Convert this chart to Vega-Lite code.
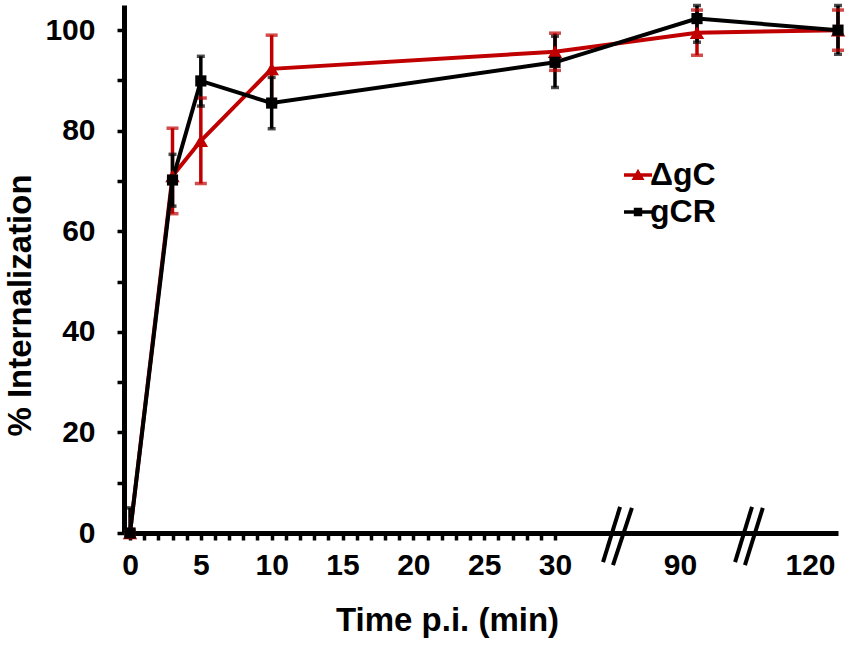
{
  "$schema": "https://vega.github.io/schema/vega-lite/v6.json",
  "autosize": "none",
  "width": 720,
  "height": 528,
  "padding": {"left": 124, "top": 5, "right": 7, "bottom": 113},
  "background": "white",
  "config": {
    "view": {"stroke": null},
    "font": "Liberation Sans",
    "axis": {
      "grid": false,
      "domainColor": "black",
      "domainWidth": 5,
      "tickColor": "black",
      "tickWidth": 3.5,
      "tickSize": 7,
      "labelColor": "black",
      "labelFont": "Liberation Sans",
      "labelFontSize": 30,
      "labelFontWeight": "bold",
      "titleColor": "black",
      "titleFont": "Liberation Sans",
      "titleFontSize": 33,
      "titleFontWeight": "bold"
    },
    "legend": {
      "labelFont": "Liberation Sans",
      "labelFontSize": 32,
      "labelFontWeight": "bold",
      "labelColor": "black"
    }
  },
  "datasets": {
    "uptake": [
      {"series": "ΔgC", "t": 0, "v": 0, "lo": -0.5, "hi": 0.5},
      {"series": "ΔgC", "t": 3, "v": 71, "lo": 63.5, "hi": 80.5},
      {"series": "ΔgC", "t": 5, "v": 78, "lo": 69.5, "hi": 86.5},
      {"series": "ΔgC", "t": 10, "v": 92.3, "lo": 85.5, "hi": 99},
      {"series": "ΔgC", "t": 30, "v": 95.7, "lo": 92, "hi": 99.4},
      {"series": "ΔgC", "t": 90, "v": 99.5, "lo": 95, "hi": 104},
      {"series": "ΔgC", "t": 120, "v": 100, "lo": 96, "hi": 104},
      {"series": "gCR", "t": 0, "v": 0, "lo": 0, "hi": 5},
      {"series": "gCR", "t": 3, "v": 70.2, "lo": 65, "hi": 75.3},
      {"series": "gCR", "t": 5, "v": 89.9, "lo": 84.9, "hi": 94.8},
      {"series": "gCR", "t": 10, "v": 85.5, "lo": 80.4, "hi": 90.6},
      {"series": "gCR", "t": 30, "v": 93.6, "lo": 88.6, "hi": 98.8},
      {"series": "gCR", "t": 90, "v": 102.3, "lo": 97.6, "hi": 104.9},
      {"series": "gCR", "t": 120, "v": 100, "lo": 95.2, "hi": 104.9}
    ],
    "breaks": [
      {"x": 50.3, "x2": 57.5, "y": -5.8, "y2": 5.2},
      {"x": 54.5, "x2": 62.5, "y": -6.4, "y2": 5.0},
      {"x": 98.1, "x2": 101.7, "y": -5.8, "y2": 5.2},
      {"x": 100.2, "x2": 104.0, "y": -6.4, "y2": 5.0}
    ]
  },
  "encoding": {
    "x": {
      "field": "t",
      "type": "quantitative",
      "scale": {"domain": [0, 30, 90, 120], "range": [6, 431, 573, 714], "nice": false, "zero": false},
      "axis": {
        "title": "Time p.i. (min)",
        "values": [0, 1, 2, 3, 4, 5, 6, 7, 8, 9, 10, 11, 12, 13, 14, 15, 16, 17, 18, 19, 20, 21, 22, 23, 24, 25, 26, 27, 28, 29, 30, 90, 120],
        "labelExpr": "datum.value <= 30 && datum.value % 5 != 0 ? '' : datum.label",
        "labelOverlap": false,
        "labelFlush": false,
        "labelPadding": 10,
        "titlePadding": 24,
        "titleX": 323,
        "tickOpacity": {"condition": {"test": "datum.value > 30", "value": 0}, "value": 1},
        "labelOffset": {"condition": [{"test": "datum.value == 90", "value": -17}, {"test": "datum.value == 120", "value": -28}], "value": 0}
      }
    },
    "y": {
      "type": "quantitative",
      "scale": {"domain": [0, 105], "nice": false},
      "axis": {
        "title": "% Internalization",
        "values": [0, 10, 20, 30, 40, 50, 60, 70, 80, 90, 100],
        "labelExpr": "datum.value % 20 == 0 ? datum.label : ''",
        "labelPadding": 22,
        "titlePadding": 7,
        "titleY": 300
      }
    },
    "color": {
      "field": "series",
      "type": "nominal",
      "scale": {"domain": ["ΔgC", "gCR"], "range": ["#c00000", "#000000"]},
      "legend": null
    }
  },
  "layer": [
    {
      "data": {"name": "uptake"},
      "mark": {"type": "rule", "strokeWidth": 3.5},
      "encoding": {"y": {"field": "lo"}, "y2": {"field": "hi"}}
    },
    {
      "data": {"name": "uptake"},
      "mark": {"type": "tick", "orient": "horizontal", "thickness": 3.5},
      "encoding": {
        "y": {"field": "lo"},
        "size": {"field": "series", "type": "nominal", "scale": {"domain": ["ΔgC", "gCR"], "range": [12, 8]}, "legend": null}
      }
    },
    {
      "data": {"name": "uptake"},
      "mark": {"type": "tick", "orient": "horizontal", "thickness": 3.5},
      "encoding": {
        "y": {"field": "hi"},
        "size": {"field": "series", "type": "nominal", "scale": {"domain": ["ΔgC", "gCR"], "range": [12, 8]}, "legend": null}
      }
    },
    {
      "data": {"name": "uptake"},
      "mark": {"type": "line", "strokeWidth": 4},
      "encoding": {"y": {"field": "v"}}
    },
    {
      "data": {"name": "uptake"},
      "mark": {"type": "point", "filled": true, "opacity": 1},
      "encoding": {
        "y": {"field": "v"},
        "shape": {"field": "series", "type": "nominal", "scale": {"domain": ["ΔgC", "gCR"], "range": ["triangle-up", "square"]}, "legend": null},
        "size": {"field": "series", "type": "nominal", "scale": {"domain": ["ΔgC", "gCR"], "range": [210, 125]}, "legend": null}
      }
    },
    {
      "data": {"name": "uptake"},
      "mark": {"type": "point", "filled": true, "opacity": 0},
      "encoding": {
        "y": {"field": "v"},
        "color": {
          "field": "series",
          "type": "nominal",
          "scale": {"domain": ["ΔgC", "gCR"], "range": ["#c00000", "#000000"]},
          "legend": {
            "title": null,
            "orient": "none",
            "legendX": 498,
            "legendY": 154,
            "padding": 0,
            "symbolSize": 400,
            "symbolOpacity": 1,
            "symbolStrokeWidth": 0,
            "labelOffset": -4,
            "rowPadding": 5
          }
        },
        "shape": {
          "field": "series",
          "type": "nominal",
          "scale": {"domain": ["ΔgC", "gCR"], "range": ["M-1.4,-0.18H1.4V0.18H-1.4Z M0,-0.62L0.65,0.5H-0.65Z", "M-1.4,-0.18H1.4V0.18H-1.4Z M-0.42,-0.42H0.42V0.42H-0.42Z"]},
          "legend": {
            "title": null,
            "orient": "none",
            "legendX": 498,
            "legendY": 154,
            "padding": 0,
            "symbolSize": 400,
            "symbolOpacity": 1,
            "symbolStrokeWidth": 0,
            "labelOffset": -4,
            "rowPadding": 5
          }
        }
      }
    },
    {
      "data": {"name": "breaks"},
      "mark": {"type": "rule", "strokeWidth": 4, "color": "black"},
      "encoding": {
        "x": {"field": "x", "type": "quantitative"},
        "x2": {"field": "x2"},
        "y": {"field": "y", "type": "quantitative"},
        "y2": {"field": "y2"},
        "color": {"value": "black"}
      }
    }
  ],
  "resolve": {
    "scale": {"shape": "independent", "size": "independent", "color": "independent"},
    "legend": {"shape": "independent", "color": "independent"}
  }
}
